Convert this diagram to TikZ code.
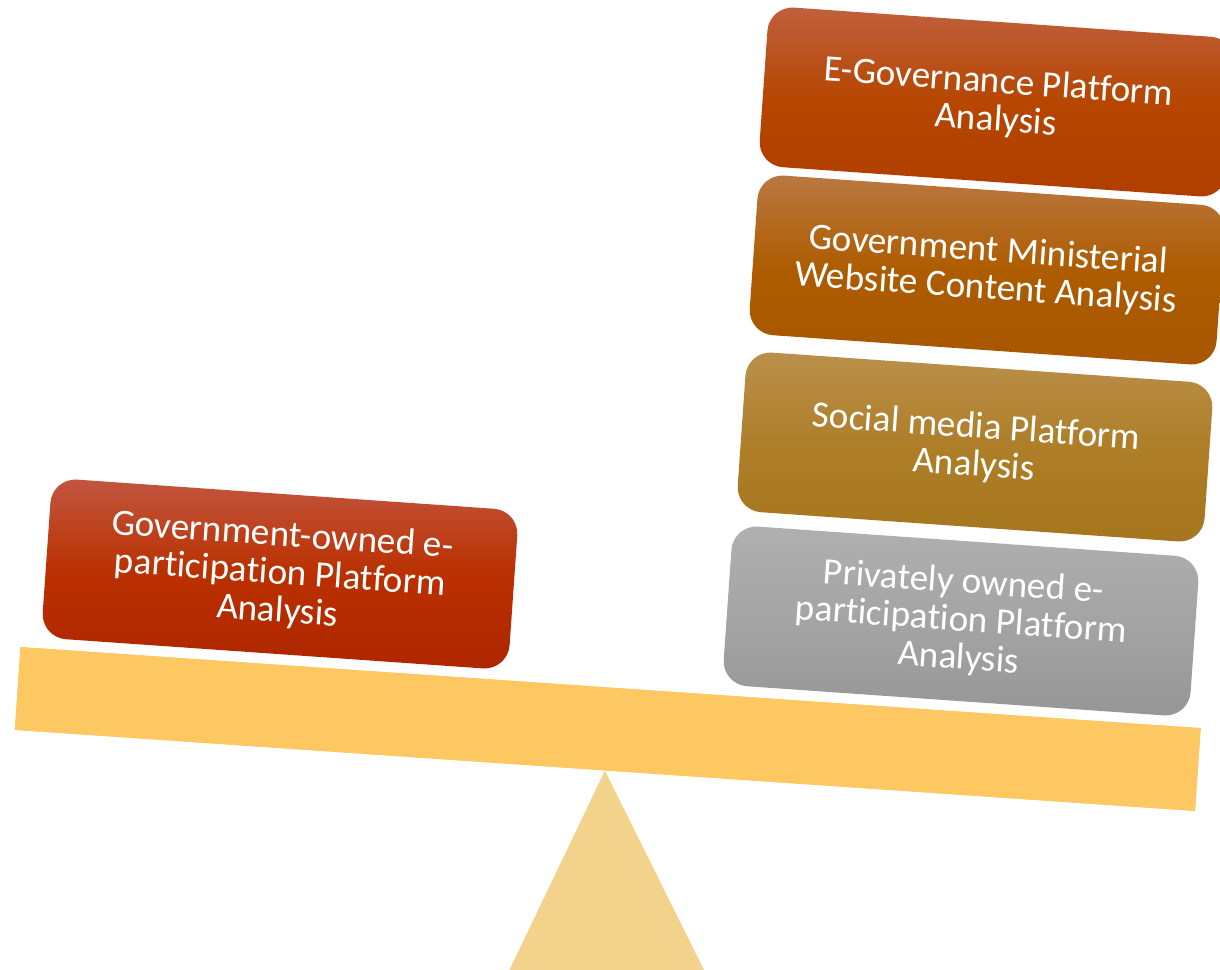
\documentclass[tikz,border=0pt]{standalone}
\usepackage{fontspec}
\setmainfont{Carlito}[Ligatures=NoCommon]
\usetikzlibrary{positioning}

\definecolor{beamcol}{HTML}{FDC862}
\definecolor{pivotcol}{HTML}{F3D28C}

\begin{document}
\begin{tikzpicture}[x=0.5pt,y=-0.5pt]
% Define styles for boxes and the seesaw
\tikzstyle{platform} = [rounded corners=12.5pt, minimum width=234pt, minimum height=80pt, rotate=-4, align=center, text=white, font=\fontsize{18.6}{19}\selectfont, inner sep=0pt]
\tikzstyle{beam} = [fill=beamcol, minimum width=591.5pt, minimum height=41.5pt, rotate=-3.93, inner sep=0pt]

\useasboundingbox (0,0) rectangle (1220,969);
\clip (0,0) rectangle (1220,969);

% Seesaw
\node[beam] (beam) at (607.75,729) {};
\fill[pivotcol] (beam.south) -- (719,1000) -- (495,1000) -- cycle;
\node[beam] at (beam) {};

% Boxes
\node[platform, top color={rgb,255:red,194;green,86;blue,64}, bottom color={rgb,255:red,174;green,38;blue,0}, middle color={rgb,255:red,186;green,48;blue,0}] (govowned) at (280,574) {Government-owned e-\\participation Platform\\Analysis};
\node[platform, top color={rgb,255:red,176;green,176;blue,176}, bottom color={rgb,255:red,150;green,150;blue,150}, middle color={rgb,255:red,164;green,164;blue,164}] (private) at (961,621) {Privately owned e-\\participation Platform\\Analysis};
\node[platform, top color={rgb,255:red,186;green,144;blue,76}, bottom color={rgb,255:red,166;green,118;blue,30}, middle color={rgb,255:red,174;green,126;blue,40}] (social) at (975,447) {Social media Platform\\Analysis};
\node[platform, top color={rgb,255:red,186;green,120;blue,66}, bottom color={rgb,255:red,168;green,86;blue,0}, middle color={rgb,255:red,174;green,92;blue,0}] (ministry) at (987,270) {Government Ministerial\\Website Content Analysis};
\node[platform, top color={rgb,255:red,192;green,96;blue,62}, bottom color={rgb,255:red,176;green,62;blue,0}, middle color={rgb,255:red,182;green,70;blue,0}] (egov) at (997,102) {E-Governance Platform\\Analysis};
\end{tikzpicture}
\end{document}
